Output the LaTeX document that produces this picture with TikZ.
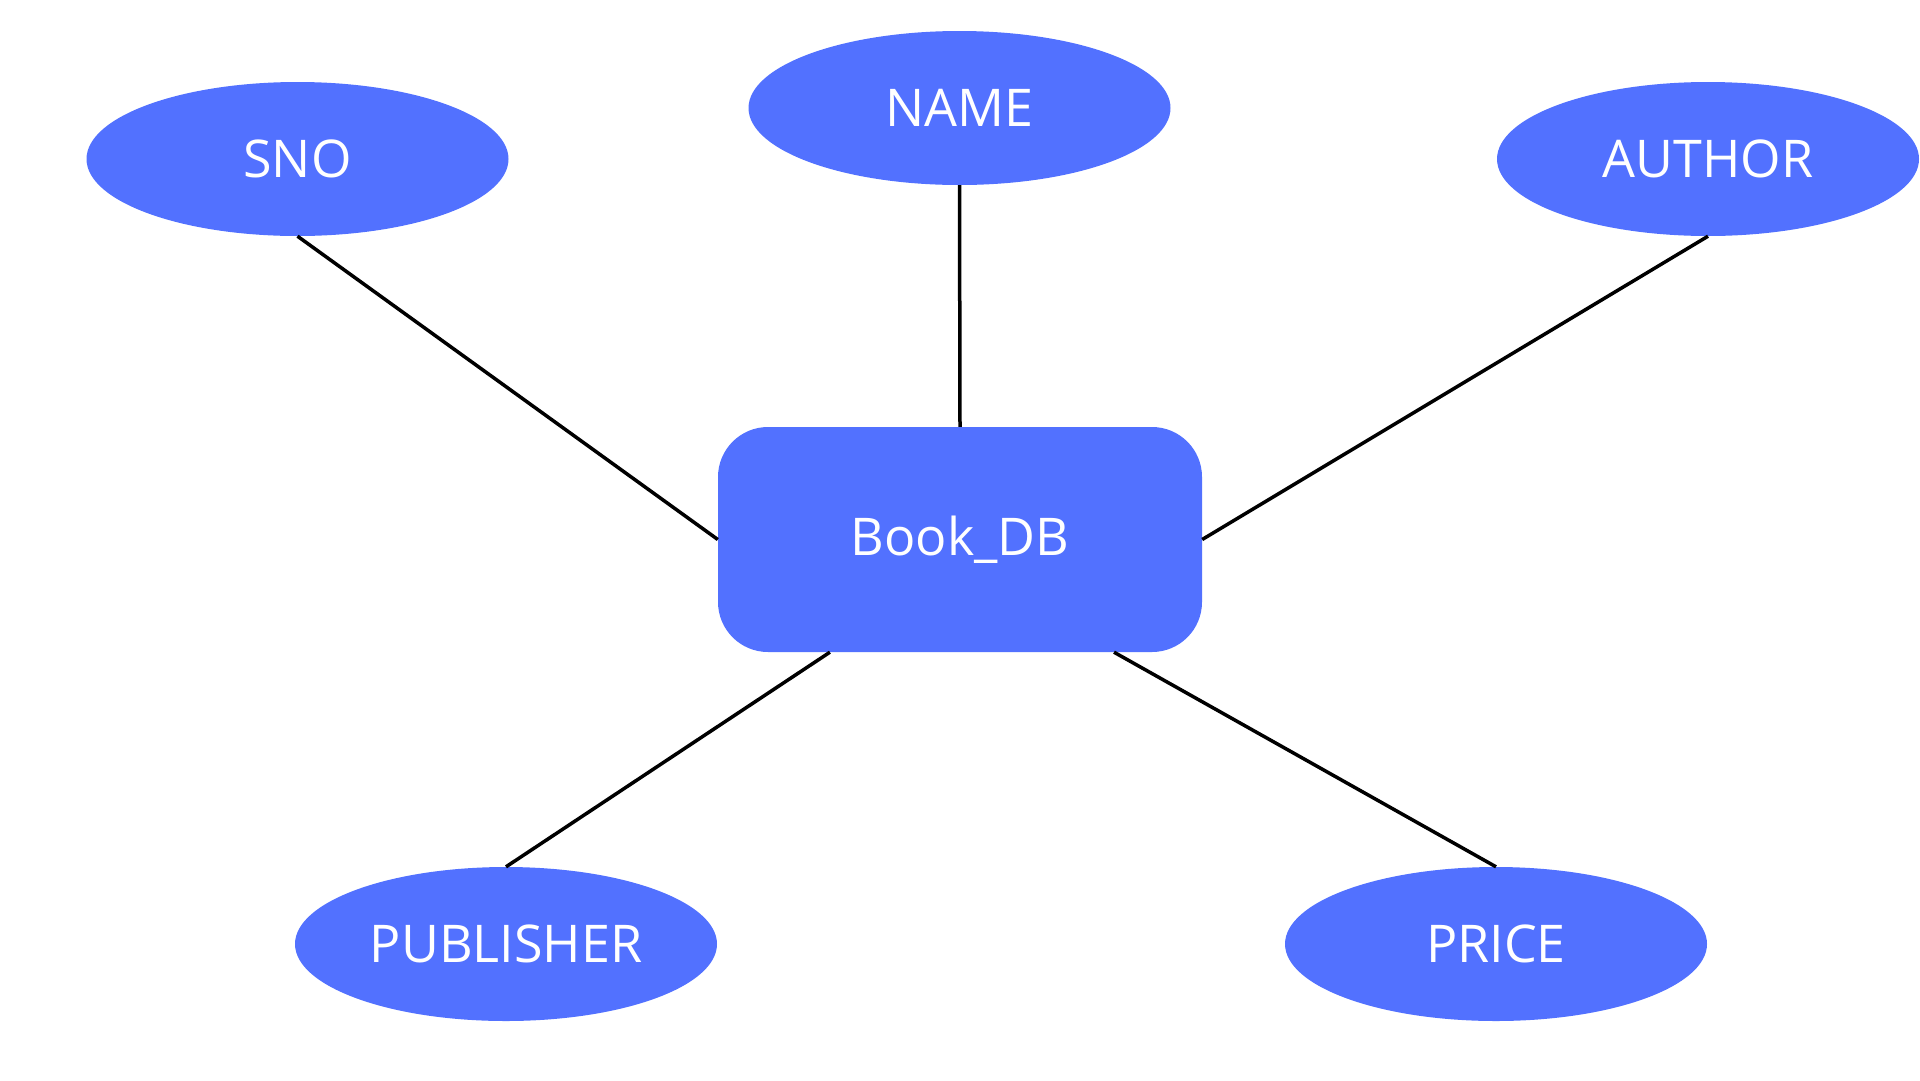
\documentclass[tikz,border=0pt]{standalone}
\usepackage{fontspec}
\setmainfont{Open Sans}
\usetikzlibrary{shapes.geometric,calc}
\definecolor{erblue}{HTML}{5271FF}
\tikzset{
  attr/.style={ellipse, fill=erblue, draw=none, minimum width=422pt, minimum height=154pt, inner sep=0pt, text=white, font=\fontsize{52}{60}\selectfont},
  entity/.style={rectangle, rounded corners=50pt, fill=erblue, draw=none, minimum width=484pt, minimum height=225pt, inner sep=0pt, text=white, font=\fontsize{52}{60}\selectfont},
  link/.style={line width=3.5pt, black}
}
\begin{document}
\begin{tikzpicture}[x=1pt,y=-1pt]
\useasboundingbox (0,0) rectangle (1920,1080);
\node[entity] (box) at (960,539.5) {\raisebox{-4pt}{Book\_DB}};
\node[attr] (name) at (959.5,108) {\raisebox{-2pt}{NAME}};
\node[attr] (sno) at (297.5,159) {\raisebox{-2pt}{SNO}};
\node[attr] (author) at (1708,159) {\raisebox{-2pt}{AUTHOR}};
\node[attr] (pub) at (506,944) {PUBLISHER};
\node[attr] (price) at (1496,944) {PRICE};
\coordinate (bpub) at ($(box.south west)!0.2314!(box.south east)$);
\coordinate (bprice) at ($(box.south west)!0.818!(box.south east)$);
\draw[link] (sno.south) -- (box.west);
\draw[link] (name.south) -- (box.north);
\draw[link] (author.south) -- (box.east);
\draw[link] (pub.north) -- (bpub);
\draw[link] (price.north) -- (bprice);
\end{tikzpicture}
\end{document}
